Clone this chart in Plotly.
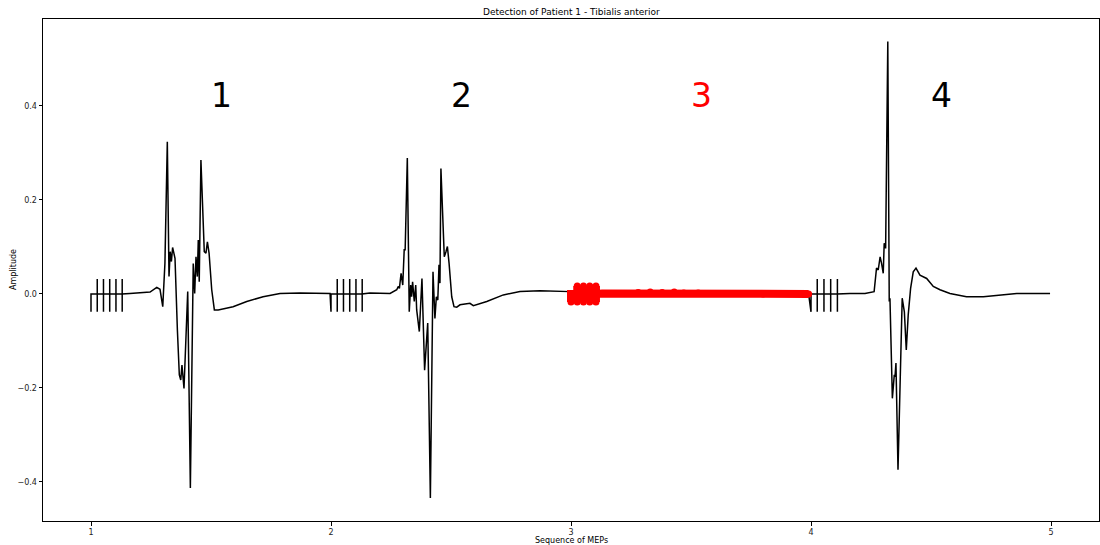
import plotly.graph_objects as go

# ---- MEP recordings: time offset within each sweep (fraction of sweep) and amplitude ----
# stimulation train at the start of each sweep
stim_times_1 = [0.0, 0.026, 0.052, 0.078, 0.104, 0.130]
stim_times_2 = [0.0, 0.026, 0.052, 0.078, 0.104, 0.130]
stim_times_3 = [0.0, 0.026, 0.052, 0.078, 0.104]
stim_times_4 = [0.0, 0.026, 0.054, 0.082, 0.110]
stim_high = [0.032, 0.032, 0.017, 0.032]
stim_low = [-0.038, -0.038, -0.017, -0.038]

mep1_t = [0.162, 0.246, 0.274, 0.2875, 0.299, 0.305, 0.308, 0.318, 0.325, 0.330,
          0.335, 0.340, 0.350, 0.360, 0.368, 0.374, 0.379, 0.3875, 0.403, 0.414,
          0.426, 0.432, 0.4375, 0.443, 0.447, 0.451, 0.458, 0.472, 0.479, 0.485,
          0.492, 0.503, 0.514, 0.530, 0.565, 0.592, 0.649, 0.717, 0.7875, 0.871, 0.996]
mep1_amp = [0.001, 0.004, 0.014, 0.010, -0.027, 0.065, 0.065, 0.324, 0.037, 0.090,
            0.069, 0.099, 0.076, -0.077, -0.172, -0.183, -0.151, -0.201, 0.005, -0.413,
            0.065, 0.001, 0.079, 0.037, 0.115, 0.026, 0.285, 0.090, 0.087, 0.111,
            0.087, 0.009, -0.034, -0.034, -0.030, -0.027, -0.016, -0.006, 0.001, 0.002, 0.001]

mep2_t = [0.162, 0.246, 0.274, 0.280, 0.285, 0.292, 0.299, 0.305, 0.309, 0.318,
          0.326, 0.332, 0.336, 0.340, 0.347, 0.353, 0.357, 0.368, 0.379, 0.390,
          0.403, 0.414, 0.425, 0.433, 0.439, 0.445, 0.450, 0.454, 0.458, 0.472,
          0.479, 0.485, 0.492, 0.503, 0.5125, 0.524, 0.5375, 0.565, 0.579, 0.593,
          0.649, 0.718, 0.7875, 0.871, 0.996]
mep2_amp = [0.002, 0.001, 0.009, 0.016, 0.012, 0.044, 0.019, 0.094, 0.094, 0.289,
            -0.038, 0.019, -0.006, 0.026, -0.016, 0.019, -0.034, -0.080, 0.033, -0.162,
            -0.062, -0.434, 0.047, -0.052, -0.006, -0.013, 0.062, 0.023, 0.267, 0.079,
            0.090, 0.101, 0.065, -0.006, -0.027, -0.028, -0.023, -0.021, -0.020, -0.025,
            -0.016, -0.002, 0.005, 0.007, 0.005]

mep3_t = [0.130, 0.200, 0.280, 0.330, 0.380, 0.430, 0.470, 0.530, 0.600, 0.700, 0.800, 0.900, 0.990]
mep3_amp = [0.001, 0.001, 0.003, 0.004, 0.003, 0.004, 0.002, 0.002, 0.001, 0.001, 0.000, 0.001, 0.000]

mep4_t = [0.162, 0.225, 0.263, 0.273, 0.280, 0.288, 0.294, 0.301, 0.305, 0.311,
          0.320, 0.326, 0.329, 0.339, 0.347, 0.350, 0.354, 0.3625, 0.380, 0.389,
          0.397, 0.405, 0.415, 0.426, 0.4375, 0.454, 0.482, 0.5095, 0.5375, 0.579,
          0.648, 0.718, 0.7875, 0.857, 0.996]
mep4_amp = [0.001, 0.001, 0.005, 0.055, 0.051, 0.079, 0.065, 0.044, 0.108, 0.097,
            0.537, -0.016, -0.009, -0.222, -0.172, -0.176, -0.147, -0.374, -0.009, -0.038,
            -0.119, -0.045, 0.012, 0.047, 0.055, 0.040, 0.033, 0.016, 0.009, 0.001,
            -0.006, -0.006, -0.002, 0.001, 0.001]

sequence = [1, 2, 3, 4]
detected = [True, True, False, True]
seq_ticks = [1, 2, 3, 4, 5]
amp_ticks = [-0.4, -0.2, 0.0, 0.2, 0.4]
amp_tick_text = ["\u22120.4", "\u22120.2", "0.0", "0.2", "0.4"]

stims = [stim_times_1, stim_times_2, stim_times_3, stim_times_4]
resp_t = [mep1_t, mep2_t, mep3_t, mep4_t]
resp_amp = [mep1_amp, mep2_amp, mep3_amp, mep4_amp]


def sweep(k):
    """Assemble one sweep: stimulation train followed by the recorded response."""
    base = sequence[k]
    xs, ys = [], []
    for j, ts in enumerate(stims[k]):
        if j == 0:
            xs += [base + ts, base + ts]
            ys += [stim_low[k], 0.0]
        else:
            xs += [base + ts] * 4
            ys += [0.0, stim_high[k], stim_low[k], 0.0]
    xs += [base + t for t in resp_t[k]]
    ys += list(resp_amp[k])
    return xs, ys


fig = go.Figure()

all_x, all_y = [], []
for k in range(len(sequence)):
    sx, sy = sweep(k)
    all_x += sx
    all_y += sy
fig.add_trace(go.Scatter(x=all_x, y=all_y, mode="lines",
                         line=dict(color="black", width=1.5),
                         hoverinfo="skip", showlegend=False))

# sweeps without a detected MEP are highlighted in red
for k in range(len(sequence)):
    if not detected[k]:
        sx, sy = sweep(k)
        fig.add_trace(go.Scatter(x=sx, y=sy, mode="lines+markers",
                                 line=dict(color="red", width=8),
                                 marker=dict(color="red", size=7),
                                 hoverinfo="skip", showlegend=False))

for k, n in enumerate(sequence):
    fig.add_annotation(x=n + 0.5, y=0.423, xref="x", yref="y", text=str(n),
                       showarrow=False, xanchor="left", yanchor="middle", xshift=-2,
                       font=dict(size=33, color="black" if detected[k] else "red",
                                 family="DejaVu Sans"))

font_family = "DejaVu Sans"
fig.add_annotation(x=0.5, y=1.014, xref="paper", yref="paper",
                   text="Detection of Patient 1 - Tibialis anterior", showarrow=False,
                   xanchor="center", yanchor="middle",
                   font=dict(size=9, color="black", family=font_family))
fig.add_annotation(x=0.5, y=-0.038, xref="paper", yref="paper",
                   text="Sequence of MEPs", showarrow=False,
                   xanchor="center", yanchor="middle",
                   font=dict(size=8, color="black", family=font_family))
fig.add_annotation(x=-0.0284, y=0.5, xref="paper", yref="paper",
                   text="Amplitude", showarrow=False, textangle=-90,
                   xanchor="center", yanchor="middle",
                   font=dict(size=8, color="black", family=font_family))

axis_style = dict(showline=True, mirror=True, linecolor="black", linewidth=1,
                  ticks="outside", ticklen=3.5, tickwidth=0.8, tickcolor="black",
                  showgrid=False, zeroline=False,
                  tickfont=dict(size=8, color="#222", family=font_family))

fig.update_xaxes(range=[0.8, 5.2], tickvals=seq_ticks,
                 ticktext=[str(v) for v in seq_ticks], **axis_style)
fig.update_yaxes(range=[-0.483, 0.585], tickvals=amp_ticks,
                 ticktext=amp_tick_text, **axis_style)

fig.update_layout(width=1100, height=545,
                  margin=dict(l=43, r=1, t=19, b=24),
                  paper_bgcolor="white", plot_bgcolor="white",
                  font=dict(family=font_family))

fig.write_html("out.html")
